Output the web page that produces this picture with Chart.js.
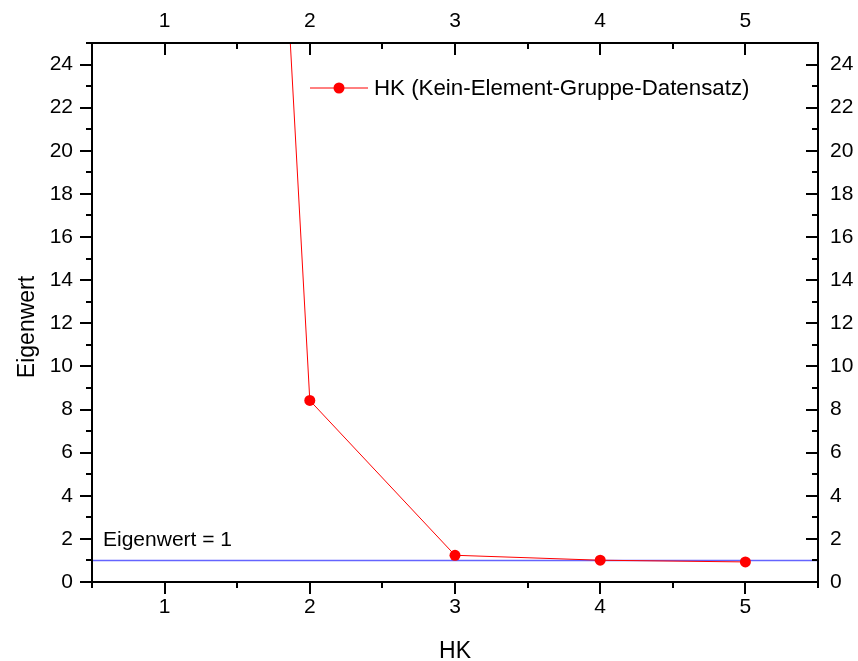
<!DOCTYPE html>
<html>
<head>
<meta charset="utf-8">
<script src="https://cdn.jsdelivr.net/npm/chart.js@4.4.0/dist/chart.umd.min.js"></script>
<style>
  html, body { margin: 0; padding: 0; background: #fff; }
  #wrap { width: 858px; height: 661px; }
</style>
</head>
<body>
<div id="wrap"><canvas id="c" width="858" height="661"></canvas></div>
<script>
// Scree plot: eigenvalue per principal component (HK)
const components = [1, 2, 3, 4, 5];
const eigenvalues = [132, 8.42, 1.24, 1.01, 0.93];
const seriesLabel = 'HK (Kein-Element-Gruppe-Datensatz)';

// Kaiser criterion reference line
const thresholdX = [0.5, 5.5];
const thresholdY = [1, 1];
const thresholdLabel = 'Eigenwert = 1';

// Axis ranges and tick values
const xRange = [0.5, 5.5];
const yRange = [0, 25];
const xMajorTicks = [1, 2, 3, 4, 5];
const xMinorTicks = [0.5, 1.5, 2.5, 3.5, 4.5, 5.5];
const yMajorTicks = [0, 2, 4, 6, 8, 10, 12, 14, 16, 18, 20, 22, 24];
const yMinorTicks = [1, 3, 5, 7, 9, 11, 13, 15, 17, 19, 21, 23, 25];

const xTitle = 'HK';
const yTitle = 'Eigenwert';

const FONT = "'Liberation Sans', Arial, sans-serif";
const RED = '#ff0000';
const BLUE = '#6464ff';

function fixedTicks(values) {
  return (axis) => { axis.ticks = values.map(v => ({ value: v })); };
}

const frameAndTicks = {
  id: 'frameAndTicks',
  afterDatasetsDraw(chart) {
    const { ctx, chartArea: a, scales } = chart;
    const xs = scales.x, ys = scales.y;
    const MAJ = 12, MIN = 6;
    ctx.save();
    ctx.strokeStyle = '#000';
    ctx.lineWidth = 2;
    ctx.lineCap = 'butt';
    // frame
    ctx.strokeRect(a.left, a.top, a.right - a.left, a.bottom - a.top);
    ctx.beginPath();
    // bottom (outward) and top (inward) ticks
    const xt = (vals, len) => vals.forEach(v => {
      const px = Math.round(xs.getPixelForValue(v));
      ctx.moveTo(px, a.bottom); ctx.lineTo(px, a.bottom + len);
      ctx.moveTo(px, a.top); ctx.lineTo(px, a.top + len);
    });
    xt(xMajorTicks, MAJ); xt(xMinorTicks, MIN);
    // left (outward) and right (inward) ticks
    const yt = (vals, len) => vals.forEach(v => {
      const py = Math.round(ys.getPixelForValue(v));
      ctx.moveTo(a.left - len, py); ctx.lineTo(a.left, py);
      ctx.moveTo(a.right - len, py); ctx.lineTo(a.right, py);
    });
    yt(yMajorTicks, MAJ); yt(yMinorTicks, MIN);
    ctx.stroke();

    // axis titles
    ctx.fillStyle = '#000';
    ctx.font = '23px ' + FONT;
    ctx.textAlign = 'center';
    ctx.textBaseline = 'alphabetic';
    ctx.fillText(xTitle, (a.left + a.right) / 2, 658);
    ctx.save();
    ctx.translate(34, 327);
    ctx.rotate(-Math.PI / 2);
    ctx.fillText(yTitle, 0, 0);
    ctx.restore();

    // threshold annotation
    ctx.font = '21px ' + FONT;
    ctx.textAlign = 'left';
    ctx.fillText(thresholdLabel, a.left + 11, 546);

    // legend
    const ly = 88;
    ctx.strokeStyle = RED;
    ctx.lineWidth = 1;
    ctx.beginPath();
    ctx.moveTo(310, ly); ctx.lineTo(368, ly);
    ctx.stroke();
    ctx.fillStyle = RED;
    ctx.beginPath();
    ctx.arc(339, ly, 5.5, 0, Math.PI * 2);
    ctx.fill();
    ctx.fillStyle = '#000';
    ctx.font = '22.3px ' + FONT;
    ctx.textBaseline = 'middle';
    ctx.fillText(seriesLabel, 374, ly + 1);
    ctx.restore();
  }
};

const tickFont = { family: FONT, size: 21 };

new Chart(document.getElementById('c'), {
  type: 'line',
  data: {
    datasets: [
      {
        label: seriesLabel,
        data: components.map((c, i) => ({ x: c, y: eigenvalues[i] })),
        borderColor: RED,
        backgroundColor: RED,
        borderWidth: 1,
        pointRadius: 5.5,
        pointHoverRadius: 5.5,
        pointBorderWidth: 0,
        tension: 0,
        clip: 0,
        xAxisID: 'x',
        yAxisID: 'y'
      },
      {
        label: thresholdLabel,
        data: thresholdX.map((x, i) => ({ x, y: thresholdY[i] })),
        borderColor: BLUE,
        borderWidth: 1.5,
        pointRadius: 0,
        clip: 0,
        xAxisID: 'x',
        yAxisID: 'y'
      }
    ]
  },
  options: {
    responsive: false,
    animation: false,
    events: [],
    layout: { padding: 0 },
    plugins: { legend: { display: false }, tooltip: { enabled: false } },
    scales: {
      x: {
        type: 'linear', position: 'bottom', min: xRange[0], max: xRange[1],
        afterBuildTicks: fixedTicks(xMajorTicks),
        afterFit: (s) => { s.height = 79; },
        grid: { display: false, drawTicks: false }, border: { display: false },
        ticks: { font: tickFont, color: '#000', padding: 13, maxRotation: 0, autoSkip: false }
      },
      x2: {
        type: 'linear', position: 'top', min: xRange[0], max: xRange[1],
        afterBuildTicks: fixedTicks(xMajorTicks),
        afterFit: (s) => { s.height = 43; },
        grid: { display: false, drawTicks: false }, border: { display: false },
        ticks: { font: tickFont, color: '#000', padding: 9, maxRotation: 0, autoSkip: false }
      },
      y: {
        type: 'linear', position: 'left', min: yRange[0], max: yRange[1],
        afterBuildTicks: fixedTicks(yMajorTicks),
        afterFit: (s) => { s.width = 92; },
        grid: { display: false, drawTicks: false }, border: { display: false },
        ticks: { font: tickFont, color: '#000', padding: 19, autoSkip: false }
      },
      y2: {
        type: 'linear', position: 'right', min: yRange[0], max: yRange[1],
        afterBuildTicks: fixedTicks(yMajorTicks),
        afterFit: (s) => { s.width = 40; },
        grid: { display: false, drawTicks: false }, border: { display: false },
        ticks: { font: tickFont, color: '#000', padding: 12, autoSkip: false }
      }
    }
  },
  plugins: [frameAndTicks]
});
</script>
</body>
</html>
